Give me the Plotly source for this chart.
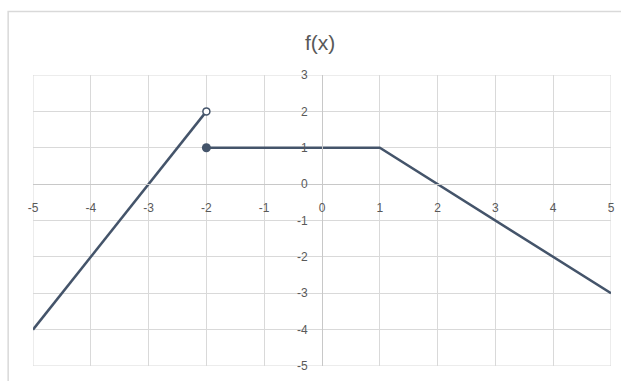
import plotly.graph_objects as go

# Data
seg1_x = [-5, -2]
seg1_y = [-4, 2]
seg2_x = [-2, 1, 5]
seg2_y = [1, 1, -3]
open_pt = (-2, 2)
closed_pt = (-2, 1)
x_ticks = [-5, -4, -3, -2, -1, 0, 1, 2, 3, 4, 5]
x_labels = ["-5", "-4", "-3", "-2", "-1", "0", "1", "2", "3", "4", "5"]
y_ticks = [-5, -4, -3, -2, -1, 0, 1, 2, 3]
y_labels = ["-5", "-4", "-3", "-2", "-1", "0", "1", "2", "3"]

line_color = "#44546A"
grid = "#D9D9D9"
txt = "#595959"
font_family = "Liberation Sans, Arial, sans-serif"

fig = go.Figure()
fig.add_trace(go.Scatter(x=seg1_x, y=seg1_y, mode="lines",
                         line=dict(color=line_color, width=2.5), showlegend=False))
fig.add_trace(go.Scatter(x=seg2_x, y=seg2_y, mode="lines",
                         line=dict(color=line_color, width=2.5), showlegend=False))
fig.add_trace(go.Scatter(x=[closed_pt[0]], y=[closed_pt[1]], mode="markers",
                         marker=dict(color=line_color, size=9), showlegend=False))
fig.add_trace(go.Scatter(x=[open_pt[0]], y=[open_pt[1]], mode="markers",
                         marker=dict(color="white", size=7,
                                     line=dict(color=line_color, width=1.5)),
                         showlegend=False))

fig.update_layout(
    width=621, height=381,
    margin=dict(l=33, r=10, t=75, b=15, autoexpand=False),
    paper_bgcolor="white", plot_bgcolor="white",
    font=dict(family=font_family, size=12, color=txt),
    xaxis=dict(range=[-5, 5], tickvals=x_ticks, ticktext=x_labels,
               showgrid=True, gridcolor=grid,
               gridwidth=1, zeroline=False, anchor="free", position=0.625,
               showline=True, linecolor="#C8C8C8", linewidth=1,
               ticks="", ticklabelstandoff=12, automargin=False,
               tickfont=dict(size=12, color=txt), fixedrange=True),
    yaxis=dict(range=[-5, 3], tickvals=y_ticks, ticktext=y_labels,
               showgrid=True, gridcolor=grid,
               gridwidth=1, zeroline=False, anchor="free", position=0.5,
               showline=True, linecolor="#C8C8C8", linewidth=1,
               ticks="", ticklabelstandoff=12, automargin=False,
               tickfont=dict(size=12, color=txt), fixedrange=True),
    shapes=[
        dict(type="rect", xref="paper", yref="paper",
             x0=-0.043, x1=1.2, y0=-0.2, y1=1.218,
             line=dict(color=grid, width=1.5), fillcolor="rgba(0,0,0,0)", layer="below"),
        dict(type="rect", xref="x", yref="y", x0=-5, x1=5, y0=-5, y1=3,
             line=dict(color=grid, width=1), fillcolor="rgba(0,0,0,0)", layer="below"),
    ],
    annotations=[
        dict(text="f(x)", xref="paper", yref="paper", x=0.497, y=1.113,
             showarrow=False, font=dict(size=21, color=txt, family=font_family),
             xanchor="center", yanchor="middle"),
    ],
)

fig.write_html("out.html",
               config={"displayModeBar": False, "staticPlot": True},
               post_script="document.body.style.margin='0';document.body.style.overflow='hidden';")
